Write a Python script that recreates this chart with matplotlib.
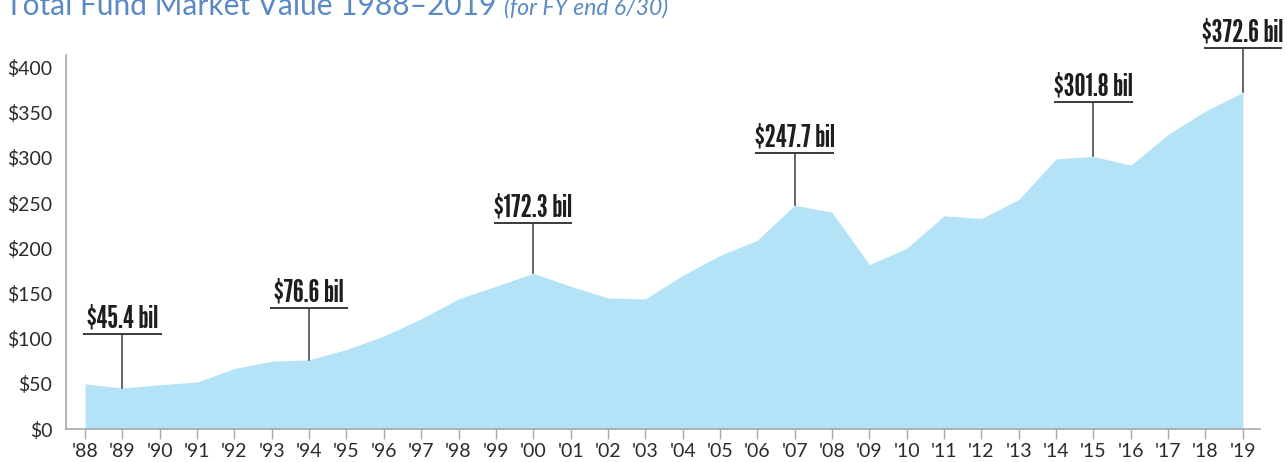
import matplotlib.pyplot as plt

years = list(range(1988, 2020))
market_value = [50, 45.4, 49, 52, 67, 75, 76.6, 88, 103, 122, 144, 158, 172.3,
                158, 145, 144, 170, 192, 209, 247.7, 240, 182, 200, 236, 233,
                254, 299, 301.8, 292, 326, 352, 372.6]
year_labels = ["'" + str(y)[2:] for y in years]

# years that get a callout, and how far above the value the label bar sits
callout_years = [1989, 1994, 2000, 2007, 2015, 2019]
callout_rise = [60, 57, 56, 58, 60, 49]

sans = ['Lato', 'DejaVu Sans']
narrow = ['League Gothic', 'Oswald', 'DejaVu Sans']

fig = plt.figure(figsize=(12.87, 4.62), dpi=100)
ax = fig.add_axes([0.0513, 0.0714, 0.9277, 0.8096])

ax.fill_between(years, market_value, 0, color='#b4e3f7', linewidth=0)

ax.set_xlim(1987.49, 2019.46)
ax.set_ylim(0, 414)
ax.set_yticks(range(0, 401, 50))
ax.set_yticklabels(['$' + str(v) for v in range(0, 401, 50)])
ax.set_xticks(years)
ax.set_xticklabels(year_labels)

for side in ['top', 'right']:
    ax.spines[side].set_visible(False)
for side in ['left', 'bottom']:
    ax.spines[side].set_color('#a8a8a8')
    ax.spines[side].set_linewidth(1.2)

ax.tick_params(axis='y', length=0, pad=10, labelsize=14, labelcolor='#2b2b2b')
ax.tick_params(axis='x', length=7, width=1, color='#a8a8a8', pad=3,
               labelsize=14, labelcolor='#2b2b2b')
for lab in ax.get_xticklabels() + ax.get_yticklabels():
    lab.set_family(sans)

# value callouts: label, bar underneath, stem down to the curve
for yr, rise in zip(callout_years, callout_rise):
    val = market_value[years.index(yr)]
    bar_y = val + rise
    ax.plot([yr - 1.05, yr + 1.05], [bar_y, bar_y], color='#3a3a3a', lw=1.4,
            clip_on=False, solid_capstyle='butt')
    ax.plot([yr, yr], [bar_y, val], color='#3a3a3a', lw=1.1, clip_on=False)
    ax.text(yr, bar_y + 7, '$' + str(val) + ' bil', ha='center', va='baseline',
            fontsize=22.5, color='#1e1e1e', family=narrow, clip_on=False)

title_y = 1 - 15 / 462
title = fig.text(0.004, title_y, 'Total Fund Market Value 1988–2019', fontsize=21.5,
                 color='#5a8ac6', va='baseline', ha='left', family=sans)
fig.canvas.draw()
bb = title.get_window_extent().transformed(fig.transFigure.inverted())
fig.text(bb.x1 + 0.006, title_y, '(for FY end 6/30)', fontsize=16.5, style='italic',
         color='#5a8ac6', va='baseline', ha='left', family=sans)

plt.savefig('out.png', dpi=100)
